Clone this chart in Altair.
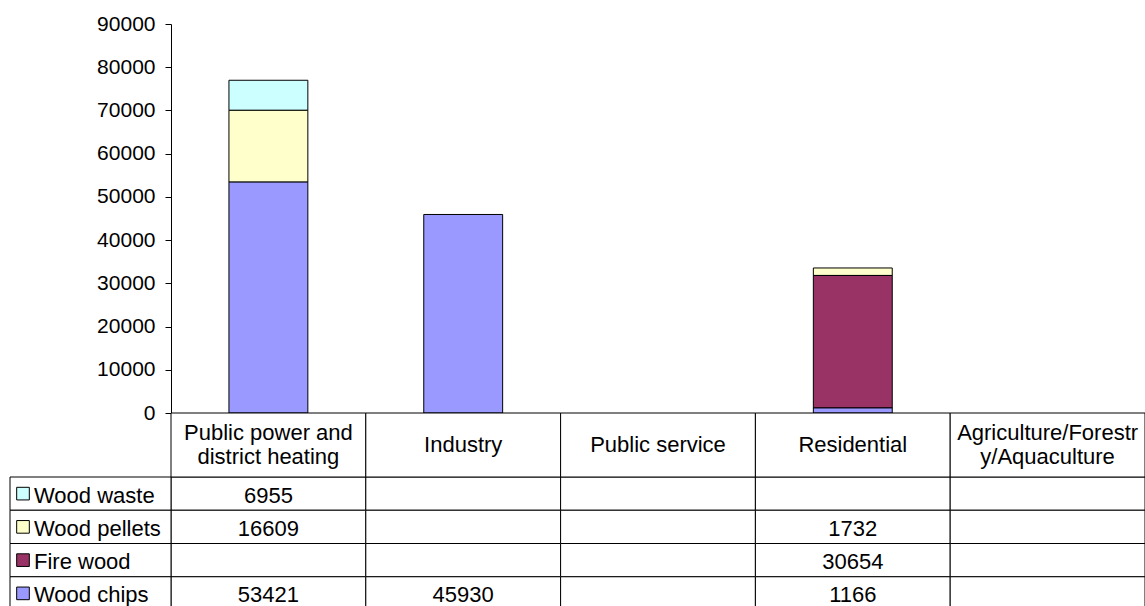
import altair as alt
import pandas as pd

categories = ["Public power and district heating", "Industry", "Public service",
              "Residential", "Agriculture/Forestry/Aquaculture"]
header_lines = [["Public power and", "district heating"], ["Industry"], ["Public service"],
                ["Residential"], ["Agriculture/Forestr", "y/Aquaculture"]]
fuels = ["Wood waste", "Wood pellets", "Fire wood", "Wood chips"]  # table order, top to bottom
fuel_colors = ["#CCFFFF", "#FFFFCC", "#993366", "#9999FF"]
stack_rank = [3, 2, 1, 0]  # 0 = bottom of stack
wood_waste = [6955, None, None, None, None]
wood_pellets = [16609, None, None, 1732, None]
fire_wood = [None, None, None, 30654, None]
wood_chips = [53421, 45930, None, 1166, None]
y_ticks = [0, 10000, 20000, 30000, 40000, 50000, 60000, 70000, 80000, 90000]

series = [wood_waste, wood_pellets, fire_wood, wood_chips]
rows = []
for f, r, vals in zip(fuels, stack_rank, series):
    for c, v in zip(categories, vals):
        rows.append({"category": c, "fuel": f, "rank": r, "value": v,
                     "label": "" if v is None else str(v)})
cells_df = pd.DataFrame(rows)
bars_df = cells_df[cells_df["value"].notna()].copy()
header_df = pd.DataFrame({"category": categories, "lines": header_lines,
                          "nlines": [len(h) for h in header_lines]})
fuel_df = pd.DataFrame({"fuel": fuels})

FONT = "Liberation Sans"
FS = 22

x_scale = alt.Scale(domain=categories, paddingInner=0, paddingOuter=0)
row_scale = alt.Scale(domain=fuels, range=[453, 586], paddingInner=0, paddingOuter=0)
color_scale = alt.Scale(domain=fuels, range=fuel_colors)

bars = alt.Chart(bars_df).mark_bar(
    width=alt.RelativeBandSize(0.405), stroke="black", strokeWidth=1
).encode(
    x=alt.X("category:N", scale=x_scale, sort=categories,
            axis=alt.Axis(orient="top", labels=False, ticks=False, title=None,
                          domainColor="black", domainWidth=1)),
    y=alt.Y("value:Q", stack="zero", scale=alt.Scale(domain=[0, 90000], nice=False),
            axis=alt.Axis(values=y_ticks, format="d", title=None, grid=False,
                          labelFont=FONT, labelFontSize=21, labelColor="black",
                          tickColor="black", tickSize=6, domainColor="black",
                          labelPadding=10)),
    color=alt.Color("fuel:N", scale=color_scale, legend=None),
    order=alt.Order("rank:Q", sort="ascending"),
)

xn = alt.X("category:N", scale=x_scale, sort=categories, axis=None)
yr = alt.Y("fuel:N", scale=row_scale, sort=fuels, axis=None)

cells = alt.Chart(cells_df).mark_rect(fill="white", stroke="black", strokeWidth=1).encode(x=xn, y=yr)
cell_text = alt.Chart(cells_df).mark_text(
    font=FONT, fontSize=FS, color="black", baseline="middle", align="center", dy=2
).encode(x=xn, y=yr, text="label:N")

header_rect = alt.Chart(header_df).mark_rect(fill="white", stroke="black", strokeWidth=1).encode(
    x=xn, y=alt.value(389), y2=alt.value(453))
header_text1 = alt.Chart(header_df).transform_filter("datum.nlines == 1").mark_text(
    font=FONT, fontSize=FS, color="black", baseline="middle", align="center"
).encode(x=xn, y=alt.value(421), text="lines")
header_text2 = alt.Chart(header_df).transform_filter("datum.nlines == 2").mark_text(
    font=FONT, fontSize=FS, color="black", baseline="middle", align="center", lineHeight=24
).encode(x=xn, y=alt.value(409), text="lines")

legend_rect = alt.Chart(fuel_df).mark_rect(fill="white", stroke="black", strokeWidth=1).encode(
    x=alt.value(-161), x2=alt.value(0), y=yr)
legend_square = alt.Chart(fuel_df).mark_square(
    size=160, stroke="black", strokeWidth=1, opacity=1, filled=True
).encode(x=alt.value(-148), y=yr, color=alt.Color("fuel:N", scale=color_scale, legend=None))
legend_text = alt.Chart(fuel_df).mark_text(
    font=FONT, fontSize=FS, color="black", baseline="middle", align="left", dy=2
).encode(x=alt.value(-137), y=yr, text="fuel:N")

table = alt.layer(cells, cell_text, header_rect, header_text1, header_text2,
                  legend_rect, legend_square, legend_text)

chart = alt.layer(bars, table).resolve_scale(y="independent").properties(
    width=974, height=389,
    autosize=alt.AutoSizeParams(type="none"),
    padding={"left": 171, "top": 24, "right": 0, "bottom": 197},
    background="white",
).configure_view(strokeWidth=0)

chart.save("out.html", embed_options={"renderer": "svg", "actions": False})
